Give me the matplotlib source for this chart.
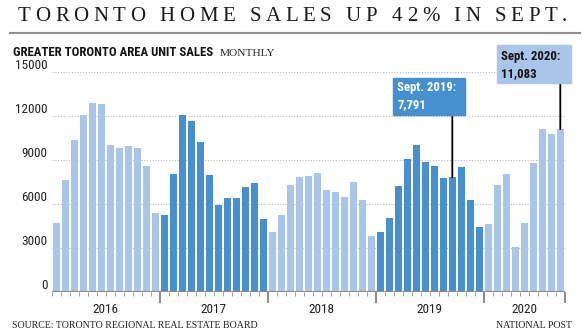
import matplotlib
matplotlib.use("Agg")
import matplotlib.pyplot as plt
import matplotlib.transforms as mtransforms
from matplotlib import font_manager
from matplotlib.patches import Rectangle
from matplotlib.lines import Line2D

# GTA unit sales, Jan 2016 - Sept 2020
years = [2016, 2017, 2018, 2019, 2020]
sales_2016 = [4660, 7610, 10340, 12070, 12860, 12790, 10000, 9820, 9910, 9770, 8570, 5390]
sales_2017 = [5230, 8050, 12070, 11640, 10200, 7980, 5930, 6360, 6410, 7160, 7390, 4930]
sales_2018 = [4050, 5200, 7250, 7820, 7860, 8090, 6910, 6820, 6450, 7480, 6270, 3820]
sales_2019 = [4050, 5040, 7230, 9070, 10000, 8840, 8590, 7750, 7791, 8500, 6270, 4430]
sales_2020 = [4610, 7270, 8050, 3020, 4660, 8750, 11090, 10770, 11083]
yticks = [0, 3000, 6000, 9000, 12000, 15000]

by_year = [sales_2016, sales_2017, sales_2018, sales_2019, sales_2020]
sales = [v for yr in by_year for v in yr]
year_of = [y for y, yr in zip(years, by_year) for _ in yr]

LIGHT = "#a9c6ea"
DARK = "#4790d0"

W, H = 583, 336
names = {f.name for f in font_manager.fontManager.ttflist}
COND = next((f for f in ["Liberation Sans Narrow", "Roboto Condensed",
                         "Open Sans Condensed", "Roboto"] if f in names), "DejaVu Sans")
SERIF = "Liberation Serif"


def fx(px):
    return px / W


def fy(py):
    return 1 - py / H


fig = plt.figure(figsize=(W / 100, H / 100), dpi=100)
ax = fig.add_axes([fx(51.8), fy(291.7), 513 / W, 220 / H])
ax.set_xlim(-0.5, len(sales) - 0.5)
ax.set_ylim(0, 15000)

x = list(range(len(sales)))
colors = [DARK if y in (2017, 2019) else LIGHT for y in year_of]
ax.bar(x, sales, width=0.74, color=colors, zorder=2)

for v in yticks[1:]:
    ax.axhline(v, color="#b8b8b8", lw=0.8, ls=(0, (1, 1.5)), zorder=1)
ax.axhline(0, color="#8c8c8c", lw=1.6, zorder=3)

for s in ax.spines.values():
    s.set_visible(False)
ax.set_yticks([])

# month ticks, longer ones between years
bounds = [i - 0.5 for i in range(len(sales) + 1)]
year_starts = [0]
for yr in by_year:
    year_starts.append(year_starts[-1] + len(yr))
major = [b - 0.5 for b in year_starts[1:]]
ax.set_xticks(major)
ax.set_xticks([b for b in bounds if b not in major], minor=True)
ax.tick_params(axis="x", which="major", length=8, width=1.2, color="#777777",
               labelbottom=False)
ax.tick_params(axis="x", which="minor", length=3.2, width=0.7, color="#9a9a9a")

# y labels sit just above their gridlines
ylab = mtransforms.offset_copy(
    mtransforms.blended_transform_factory(fig.transFigure, ax.transData),
    fig=fig, x=0, y=3, units="dots")
for v in yticks:
    ax.text(fx(47.5), v, str(v), transform=ylab, ha="right", va="baseline",
            fontsize=9.5, family=COND, color="#222222")

xfig = mtransforms.blended_transform_factory(ax.transData, fig.transFigure)
for y, a, b in zip(years, year_starts[:-1], year_starts[1:]):
    ax.text((a + b - 1) / 2, fy(313), str(y), transform=xfig, ha="center",
            va="baseline", fontsize=9.5, family=COND, color="#222222")

# letter-spaced headline
renderer = fig.canvas.get_renderer()
title = "TORONTO HOME SALES UP 42% IN SEPT."
tsize = 15
pieces = [fig.text(0, fy(21), ch, fontsize=tsize, family=SERIF, color="#1a1a1a",
                   va="baseline") for ch in title]
widths = [tsize * 100 / 72 * 0.25 if ch == " " else p.get_window_extent(renderer).width
          for ch, p in zip(title, pieces)]
gap = (567 - 18 - sum(widths)) / (len(title) - 1)
pos = 18
for p, w in zip(pieces, widths):
    p.set_x(fx(pos))
    pos += w + gap

fig.add_artist(Line2D([fx(10), fx(580)], [fy(33.3)] * 2, color="#8f8f8f", lw=1.5))

fig.text(fx(13), fy(55.7), "GREATER TORONTO AREA UNIT SALES", fontsize=9.2,
         family=COND, weight="bold", color="#111111", va="baseline")
fig.text(fx(220), fy(55.7), "MONTHLY", fontsize=8.2, family=SERIF,
         color="#222222", va="baseline")

# callouts
i19 = year_starts[3] + 8
i20 = len(sales) - 1
fig.add_artist(Rectangle((fx(393), fy(115)), 72 / W, 37 / H, color=DARK,
                         transform=fig.transFigure))
fig.text(fx(397.5), fy(91), "Sept. 2019:", fontsize=9.2, family=COND,
         weight="bold", color="white", va="baseline")
fig.text(fx(397.5), fy(107.7), f"{sales[i19]:,}", fontsize=9.2, family=COND,
         weight="bold", color="white", va="baseline")
ax.annotate("", xy=(i19, sales[i19]), xytext=(i19, fy(115)), textcoords=xfig,
            arrowprops=dict(arrowstyle="-", color="black", lw=1.3,
                            shrinkA=0, shrinkB=0), annotation_clip=False)

fig.add_artist(Rectangle((fx(497), fy(83)), 74 / W, 38 / H, color=LIGHT,
                         transform=fig.transFigure))
fig.text(fx(501.5), fy(60), "Sept. 2020:", fontsize=9.2, family=COND,
         weight="bold", color="#111111", va="baseline")
fig.text(fx(501.5), fy(76.7), f"{sales[i20]:,}", fontsize=9.2, family=COND,
         weight="bold", color="#111111", va="baseline")
ax.annotate("", xy=(i20, sales[i20]), xytext=(i20, fy(83)), textcoords=xfig,
            arrowprops=dict(arrowstyle="-", color="black", lw=1.3,
                            shrinkA=0, shrinkB=0), annotation_clip=False)

fig.text(fx(11.5), fy(328.3), "SOURCE: TORONTO REGIONAL REAL ESTATE BOARD",
         fontsize=7.1, family=SERIF, color="#222222", va="baseline")
fig.text(fx(572.5), fy(327.8), "NATIONAL POST", fontsize=7.1, family=SERIF,
         color="#222222", va="baseline", ha="right")

fig.savefig("out.png", dpi=100)
